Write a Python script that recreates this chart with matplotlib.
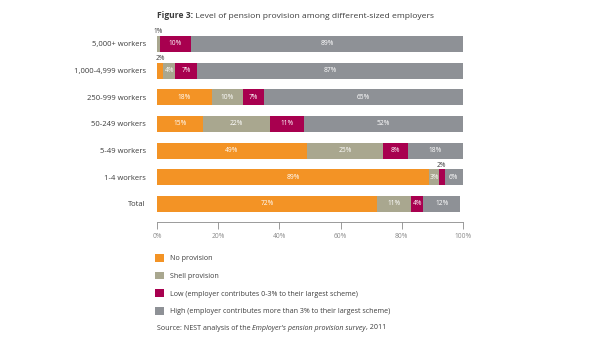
import numpy as np
import matplotlib
matplotlib.use("Agg")
import matplotlib.pyplot as plt
from matplotlib.patches import Patch

plt.rcParams['font.family'] = ['Open Sans', 'DejaVu Sans']

categories = ["5,000+ workers", "1,000-4,999 workers", "250-999 workers",
              "50-249 workers", "5-49 workers", "1-4 workers", "Total"]
no_provision = [0, 2, 18, 15, 49, 89, 72]
shell = [1, 4, 10, 22, 25, 3, 11]
low = [10, 7, 7, 11, 8, 2, 4]
high = [89, 87, 65, 52, 18, 6, 12]

series_names = ["No provision", "Shell provision",
                "Low (employer contributes 0-3% to their largest scheme)",
                "High (employer contributes more than 3% to their largest scheme)"]
colors = ["#F39325", "#A9A78F", "#A8004F", "#8E9196"]
ticks = [0, 20, 40, 60, 80, 100]

TEXT = "#3c3c3c"

fig = plt.figure(figsize=(6, 3.5), dpi=100)
ax = fig.add_axes([157 / 600, 1 - 222 / 350, (463 - 157) / 600, 192 / 350])

y = np.arange(len(categories))
left = np.zeros(len(categories))
handles = []
for vals, col, name in zip([no_provision, shell, low, high], colors, series_names):
    vals = np.array(vals, dtype=float)
    ax.barh(y, vals, left=left, height=0.6, color=col, linewidth=0)
    for i, v in enumerate(vals):
        if v == 0:
            continue
        cx = left[i] + v / 2
        if v <= 2:
            ax.text(cx, y[i] - 0.33, f"{int(v)}%", ha="center", va="bottom",
                    fontsize=4.8, color=TEXT)
        else:
            ax.text(cx, y[i], f"{int(v)}%", ha="center", va="center",
                    fontsize=4.8, color="white")
    left += vals
    handles.append(Patch(facecolor=col, edgecolor="none", label=name))

ax.set_ylim(6.675, -0.525)
ax.set_xlim(0, 100)
ax.set_yticks(y)
ax.set_yticklabels(categories, fontsize=5.5, color=TEXT)
ax.tick_params(axis="y", length=0, pad=8)
ax.set_xticks(ticks)
ax.set_xticklabels([f"{t}%" for t in ticks], fontsize=4.8, color="#8a8a8a")
ax.tick_params(axis="x", length=5, width=0.6, color="#8a8a8a", pad=3)
for s in ["top", "right", "left"]:
    ax.spines[s].set_visible(False)
ax.spines["bottom"].set_color("#8a8a8a")
ax.spines["bottom"].set_linewidth(0.6)

# title, bold prefix then normal text
t1 = fig.text(157 / 600, 1 - 16 / 350, "Figure 3:", fontsize=6.1, fontweight="bold",
              color=TEXT, va="center")
ax.annotate(" Level of pension provision among different-sized employers",
            xy=(1, 0), xycoords=t1, va="bottom", ha="left", fontsize=6.1, color=TEXT,
            annotation_clip=False)

leg = fig.legend(handles=handles, loc="upper left", bbox_to_anchor=(152 / 600, 1 - 251 / 350),
                 frameon=False, fontsize=5.1, handlelength=1.3, handleheight=1.3,
                 labelspacing=1.35, handletextpad=0.8, borderaxespad=0)
for txt in leg.get_texts():
    txt.set_color(TEXT)

s1 = fig.text(157 / 600, 1 - 328 / 350, "Source: NEST analysis of the ", fontsize=5.1,
              color=TEXT, va="center")
s2 = ax.annotate("Employer's pension provision survey", xy=(1, 0), xycoords=s1,
                 va="bottom", ha="left", fontsize=5.1, style="italic", color=TEXT,
                 annotation_clip=False)
ax.annotate(", 2011", xy=(1, 0), xycoords=s2, va="bottom", ha="left", fontsize=5.1,
            color=TEXT, annotation_clip=False)

fig.savefig("out.png", dpi=100)
